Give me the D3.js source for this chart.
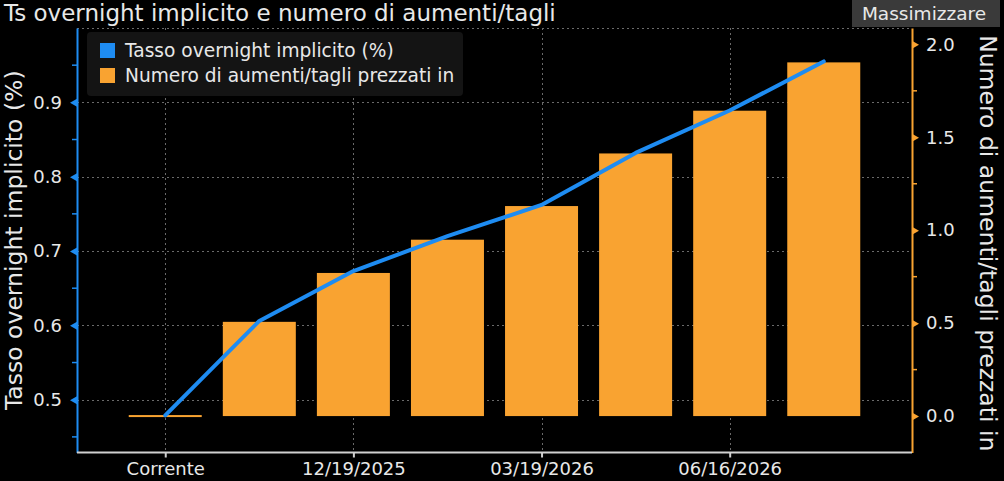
<!DOCTYPE html>
<html>
<head>
<meta charset="utf-8">
<script src="https://cdn.jsdelivr.net/npm/d3@7"></script>
<style>
  body { margin: 0; background: #000; }
  svg { display: block; }
  text { font-family: "DejaVu Sans", "Liberation Sans", sans-serif; fill: #e8e8e8; }
</style>
</head>
<body>
<div class="canvas"></div>
<script>
// categories (BoJ meeting dates), only every other one is labelled
const categories = ["Corrente", "10/30/2025", "12/19/2025", "01/23/2026", "03/19/2026", "04/28/2026", "06/16/2026", "07/31/2026"];
const tickLabels = ["Corrente", "12/19/2025", "03/19/2026", "06/16/2026"];
// implied overnight rate (%), left axis
const impliedRate = [0.479, 0.606, 0.673, 0.720, 0.762, 0.832, 0.889, 0.955];
// number of hikes/cuts priced in, right axis
const hikesPriced = [0.0, 0.507, 0.77, 0.949, 1.13, 1.413, 1.643, 1.903];
const leftTicks = [0.5, 0.6, 0.7, 0.8, 0.9];
const rightTicks = [0.0, 0.5, 1.0, 1.5, 2.0];

const blue = "#1e8cf2";
const orange = "#f9a331";

const width = 1004, height = 481;
const plot = { left: 77, right: 912, top: 28, bottom: 452.5 };

const svg = d3.select('.canvas')
  .append('svg')
  .attr('width', width)
  .attr('height', height)
  .style('background', '#000');

const x = d3.scalePoint()
  .domain(categories)
  .range([plot.left, plot.right])
  .padding(0.938);

const yL = d3.scaleLinear()
  .domain([0.429, 1.0])
  .range([plot.bottom, plot.top]);

const yR = d3.scaleLinear()
  .domain([-0.196, 2.088])
  .range([plot.bottom, plot.top]);

// title + button
svg.append('text')
  .attr('x', 4)
  .attr('y', 21)
  .attr('font-size', 23)
  .text('Ts overnight implicito e numero di aumenti/tagli');

svg.append('rect')
  .attr('x', 852).attr('y', 0)
  .attr('width', 148).attr('height', 27)
  .attr('fill', '#3a3a3a');
svg.append('text')
  .attr('x', 924).attr('y', 20)
  .attr('text-anchor', 'middle')
  .attr('font-size', 18.5)
  .text('Massimizzare');

// gridlines
const grid = svg.append('g')
  .attr('stroke', '#6a6a6a')
  .attr('stroke-width', 1)
  .attr('stroke-dasharray', '2,3');

grid.selectAll('.hgrid')
  .data(leftTicks.concat([1.0]))
  .join('line')
  .attr('x1', plot.left).attr('x2', plot.right)
  .attr('y1', d => Math.round(yL(d)) + 0.5)
  .attr('y2', d => Math.round(yL(d)) + 0.5);

grid.selectAll('.vgrid')
  .data(tickLabels)
  .join('line')
  .attr('x1', d => Math.round(x(d)) + 0.5)
  .attr('x2', d => Math.round(x(d)) + 0.5)
  .attr('y1', plot.top).attr('y2', plot.bottom);

// bars
const barW = 73;
svg.append('g')
  .selectAll('rect')
  .data(hikesPriced)
  .join('rect')
  .attr('x', (d, i) => x(categories[i]) - barW / 2)
  .attr('width', barW)
  .attr('y', d => d > 0 ? yR(d) : yR(0) - 1)
  .attr('height', d => Math.max(2, yR(0) - yR(d)))
  .attr('fill', orange);

// line
const line = d3.line()
  .x((d, i) => x(categories[i]))
  .y(d => yL(d));

svg.append('path')
  .datum(impliedRate)
  .attr('d', line)
  .attr('fill', 'none')
  .attr('stroke', blue)
  .attr('stroke-width', 4)
  .attr('stroke-linecap', 'round')
  .attr('stroke-linejoin', 'round');

// left axis
const leftAxis = svg.append('g')
  .attr('transform', `translate(${plot.left},0)`)
  .call(d3.axisLeft(yL).tickValues(leftTicks).tickFormat(d3.format('.1f')).tickSize(0).tickPadding(15));
leftAxis.select('.domain').attr('stroke', blue).attr('stroke-width', 2);
leftAxis.selectAll('.tick text').attr('fill', '#e8e8e8').attr('font-size', 18);
leftAxis.selectAll('.tick').append('path')
  .attr('d', 'M0,-4L-7,0L0,4Z')
  .attr('fill', blue);
leftAxis.selectAll('.minor')
  .data([0.45, 0.55, 0.65, 0.75, 0.85, 0.95])
  .join('line')
  .attr('x1', 0).attr('x2', -5)
  .attr('y1', d => yL(d)).attr('y2', d => yL(d))
  .attr('stroke', blue).attr('stroke-width', 1.5);

// right axis
const rightAxis = svg.append('g')
  .attr('transform', `translate(${plot.right},0)`)
  .call(d3.axisRight(yR).tickValues(rightTicks).tickFormat(d3.format('.1f')).tickSize(0).tickPadding(14));
rightAxis.select('.domain').attr('stroke', orange).attr('stroke-width', 2);
rightAxis.selectAll('.tick text').attr('fill', '#e8e8e8').attr('font-size', 18);
rightAxis.selectAll('.tick').append('path')
  .attr('d', 'M0,-4L7,0L0,4Z')
  .attr('fill', orange);
rightAxis.selectAll('.minor')
  .data([0.25, 0.75, 1.25, 1.75])
  .join('line')
  .attr('x1', 0).attr('x2', 5)
  .attr('y1', d => yR(d)).attr('y2', d => yR(d))
  .attr('stroke', orange).attr('stroke-width', 1.5);

// bottom axis
const bottomAxis = svg.append('g')
  .attr('transform', `translate(0,${plot.bottom})`)
  .call(d3.axisBottom(x).tickValues(tickLabels).tickSize(5).tickPadding(5));
bottomAxis.select('.domain').attr('stroke', '#d0d0d0').attr('stroke-width', 2).attr('d', `M${plot.left},0H${plot.right}`);
bottomAxis.selectAll('.tick line').attr('stroke', '#d0d0d0').attr('stroke-width', 2);
bottomAxis.selectAll('.tick text').attr('fill', '#e8e8e8').attr('font-size', 18);

// axis titles
svg.append('text')
  .attr('transform', `translate(22,${(plot.top + plot.bottom) / 2}) rotate(-90)`)
  .attr('text-anchor', 'middle')
  .attr('font-size', 23.5)
  .text('Tasso overnight implicito (%)');

svg.append('text')
  .attr('transform', `translate(980,${(plot.top + plot.bottom) / 2 + 3}) rotate(90)`)
  .attr('text-anchor', 'middle')
  .attr('font-size', 23.5)
  .text('Numero di aumenti/tagli prezzati in');

// legend
const legend = svg.append('g');
legend.append('rect')
  .attr('x', 87).attr('y', 32)
  .attr('width', 376).attr('height', 64)
  .attr('rx', 4)
  .attr('fill', '#141414');

const legendItems = [
  { label: 'Tasso overnight implicito (%)', color: blue },
  { label: 'Numero di aumenti/tagli prezzati in', color: orange }
];
const li = legend.selectAll('.item')
  .data(legendItems)
  .join('g')
  .attr('transform', (d, i) => `translate(100,${43 + i * 25})`);
li.append('rect')
  .attr('width', 15).attr('height', 15)
  .attr('fill', d => d.color);
li.append('text')
  .attr('x', 25).attr('y', 14)
  .attr('font-size', 18.6)
  .text(d => d.label);
</script>
</body>
</html>
